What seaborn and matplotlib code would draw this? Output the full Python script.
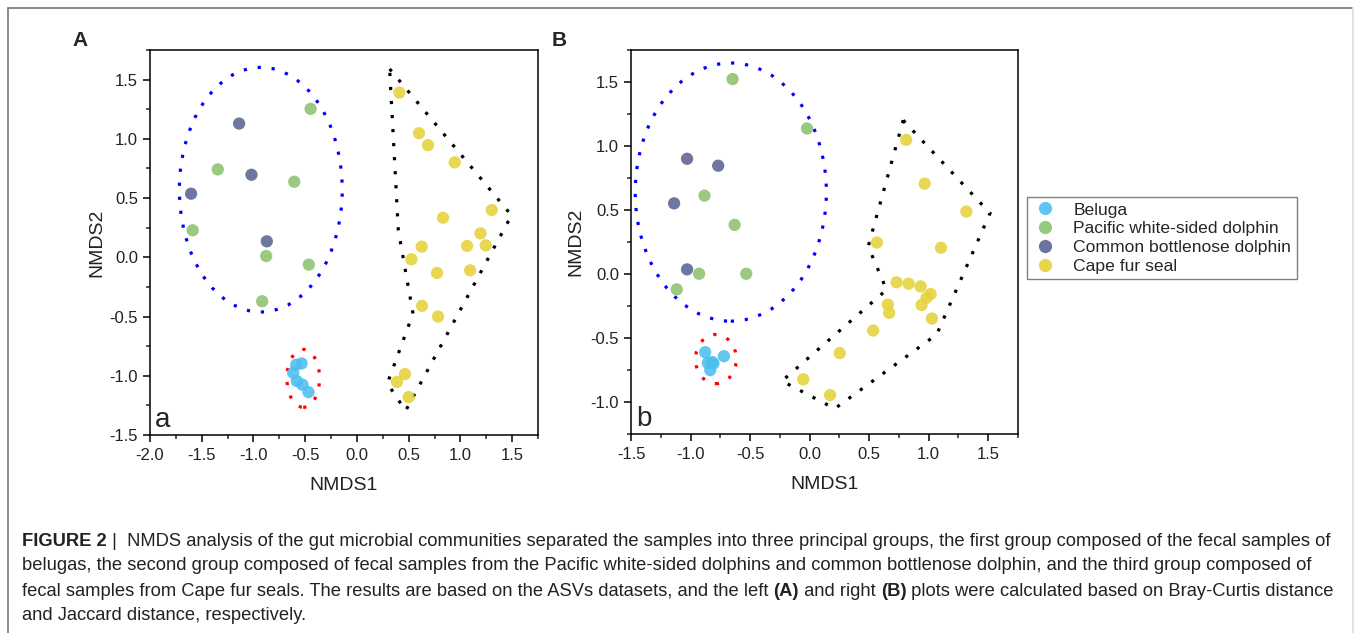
import seaborn as sns
import pandas as pd
import matplotlib.pyplot as plt
from matplotlib.patches import Ellipse, Polygon
from matplotlib.lines import Line2D
from matplotlib.ticker import MultipleLocator

species = ['Beluga', 'Pacific white-sided dolphin', 'Common bottlenose dolphin', 'Cape fur seal']
colors = ['#4DBEEE', '#8DC26F', '#5B6494', '#E5D23A']

# panel A (Bray-Curtis)
a_beluga_x = [-0.535, -0.587, -0.616, -0.581, -0.526, -0.468]
a_beluga_y = [-0.896, -0.907, -0.975, -1.045, -1.076, -1.138]
a_pacific_x = [-0.448, -1.345, -0.606, -1.587, -0.877, -0.465, -0.916]
a_pacific_y = [1.253, 0.742, 0.638, 0.228, 0.011, -0.062, -0.371]
a_bottle_x = [-1.139, -1.019, -1.603, -0.871]
a_bottle_y = [1.129, 0.697, 0.537, 0.135]
a_seal_x = [0.410, 0.600, 0.687, 0.945, 1.303, 0.832, 1.194, 1.065, 1.245,
            0.626, 0.526, 0.774, 1.094, 0.629, 0.784, 0.465, 0.387, 0.500]
a_seal_y = [1.390, 1.048, 0.947, 0.801, 0.399, 0.334, 0.202, 0.096, 0.101,
            0.090, -0.017, -0.132, -0.110, -0.410, -0.500, -0.986, -1.051, -1.180]

# panel B (Jaccard)
b_beluga_x = [-0.877, -0.720, -0.855, -0.818, -0.807, -0.835]
b_beluga_y = [-0.611, -0.642, -0.694, -0.688, -0.699, -0.751]
b_pacific_x = [-0.647, -0.022, -0.883, -0.630, -0.928, -0.532, -1.116]
b_pacific_y = [1.523, 1.137, 0.612, 0.384, 0.002, 0.002, -0.120]
b_bottle_x = [-1.029, -0.768, -1.138, -1.029]
b_bottle_y = [0.900, 0.846, 0.552, 0.036]
b_seal_x = [0.811, 0.966, 1.316, 0.565, 1.103, 0.730, 0.831, 0.932, 1.016,
            0.982, 0.940, 0.657, 0.668, 1.027, 0.534, 0.253, -0.053, 0.172]
b_seal_y = [1.048, 0.706, 0.488, 0.246, 0.205, -0.065, -0.076, -0.097, -0.156,
            -0.187, -0.242, -0.239, -0.304, -0.348, -0.442, -0.618, -0.823, -0.946]

# group outlines: ellipse (center x, center y, width, height), hull vertices
a_blue_ell = (-0.929, 0.571, 1.574, 2.065)
a_red_ell = (-0.519, -1.022, 0.316, 0.489)
a_hull = [(0.316, 1.590), (1.494, 0.354), (0.471, -1.295), (0.294, -1.065), (0.542, -0.475), (0.400, 0.228)]
b_blue_ell = (-0.662, 0.640, 1.605, 2.017)
b_red_ell = (-0.787, -0.665, 0.343, 0.384)
b_hull = [(0.786, 1.201), (1.515, 0.475), (1.067, -0.473), (0.211, -1.052), (-0.232, -0.836), (0.646, -0.123), (0.492, 0.215)]


def make_df(groups):
    rows = []
    for name, xs, ys in groups:
        for x, y in zip(xs, ys):
            rows.append({'NMDS1': x, 'NMDS2': y, 'species': name})
    return pd.DataFrame(rows)


df_a = make_df([(species[0], a_beluga_x, a_beluga_y), (species[1], a_pacific_x, a_pacific_y),
                (species[2], a_bottle_x, a_bottle_y), (species[3], a_seal_x, a_seal_y)])
df_b = make_df([(species[0], b_beluga_x, b_beluga_y), (species[1], b_pacific_x, b_pacific_y),
                (species[2], b_bottle_x, b_bottle_y), (species[3], b_seal_x, b_seal_y)])

sns.set_style('ticks')
plt.rcParams['font.family'] = ['Liberation Sans', 'DejaVu Sans']

W, H = 1354, 633
fig = plt.figure(figsize=(W / 100, H / 100), dpi=100)


def px_axes(l, t, r, b):
    return fig.add_axes([l / W, 1 - b / H, (r - l) / W, (b - t) / H])


dot = (0, (1, 3.4))


def draw_panel(ax, df, xlim, ylim, yticks, blue, red, hull, letter, ylab_x):
    sns.scatterplot(data=df, x='NMDS1', y='NMDS2', hue='species', hue_order=species,
                    palette=colors, s=78, alpha=0.88, linewidth=0, ax=ax, legend=False, zorder=3)
    ax.add_patch(Ellipse(blue[:2], blue[2], blue[3], fill=False, edgecolor='#0000FF',
                         lw=2.3, linestyle=dot, zorder=2))
    ax.add_patch(Ellipse(red[:2], red[2], red[3], fill=False, edgecolor='#FF0000',
                         lw=2.3, linestyle=dot, zorder=2))
    ax.add_patch(Polygon(hull, closed=True, fill=False, edgecolor='black',
                         lw=2.3, linestyle=dot, zorder=2))
    ax.set_xlim(*xlim)
    ax.set_ylim(*ylim)
    ax.set_xticks([v / 2 for v in range(int(xlim[0] * 2), 4)])
    ax.set_yticks(yticks)
    ax.xaxis.set_major_formatter(plt.FuncFormatter(lambda v, p: f'{v:.1f}'))
    ax.yaxis.set_major_formatter(plt.FuncFormatter(lambda v, p: f'{v:.1f}'))
    ax.xaxis.set_minor_locator(MultipleLocator(0.25))
    ax.yaxis.set_minor_locator(MultipleLocator(0.25))
    ax.tick_params(which='major', direction='out', length=5, width=1.1, labelsize=12,
                   pad=3.5, colors='black', labelcolor='#222222')
    ax.tick_params(which='minor', direction='out', length=3, width=1.1)
    ax.tick_params(axis='x', which='major', pad=4.5)
    for sp in ax.spines.values():
        sp.set_visible(True)
        sp.set_linewidth(1.1)
        sp.set_color('black')
    ax.set_xlabel('NMDS1', fontsize=14, color='#222222')
    ax.set_ylabel('NMDS2', fontsize=14, color='#222222')
    ax.xaxis.set_label_coords(0.5, -0.11)
    ax.yaxis.set_label_coords(ylab_x, 0.5)
    ax.text(0.013, 0.021, letter, transform=ax.transAxes, fontsize=20, va='baseline', ha='left')


ax_a = px_axes(150, 50, 538, 435)
draw_panel(ax_a, df_a, (-2.0, 1.75), (-1.5, 1.75), [-1.5, -1.0, -0.5, 0.0, 0.5, 1.0, 1.5],
           a_blue_ell, a_red_ell, a_hull, 'a', -0.115)
ax_b = px_axes(631, 50, 1018, 434)
draw_panel(ax_b, df_b, (-1.5, 1.75), (-1.25, 1.75), [-1.0, -0.5, 0.0, 0.5, 1.0, 1.5],
           b_blue_ell, b_red_ell, b_hull, 'b', -0.12)

fig.text(72 / W, 1 - 41 / H, 'A', fontsize=15, fontweight='bold', va='center', ha='left')
fig.text(552 / W, 1 - 41 / H, 'B', fontsize=15, fontweight='bold', va='center', ha='left')

handles = [Line2D([], [], marker='o', linestyle='none', markersize=9.5, markerfacecolor=c,
                  markeredgewidth=0, alpha=0.9) for c in colors]
fig.legend(handles, species, loc='upper left', bbox_to_anchor=(1027 / W, 1 - 197 / H),
           borderaxespad=0, fontsize=12.6, frameon=True, fancybox=False, edgecolor='#808080',
           framealpha=1, labelspacing=0.2, handletextpad=0.85, borderpad=0.3, handlelength=1.5)

# outer frame of the figure
fig.add_artist(Line2D([8 / W, 1352 / W], [1 - 7.5 / H, 1 - 7.5 / H], color='#777777', lw=1.2))
fig.add_artist(Line2D([8 / W, 8 / W], [0, 1 - 7.5 / H], color='#777777', lw=1.2))
fig.add_artist(Line2D([1352.5 / W, 1352.5 / W], [0, 1 - 7.5 / H], color='#DDDDDD', lw=1.2))

# caption
renderer = fig.canvas.get_renderer()


def caption_line(y, parts, size=13.2):
    x = 22
    for txt, bold in parts:
        t = fig.text(x / W, 1 - y / H, txt, fontsize=size, va='center', ha='left',
                     fontweight='bold' if bold else 'normal', color='#222222')
        x += t.get_window_extent(renderer).width


caption_line(541, [('FIGURE 2', True), (' |  NMDS analysis of the gut microbial communities separated the samples into three principal groups, the first group composed of the fecal samples of', False)])
caption_line(566, [('belugas, the second group composed of fecal samples from the Pacific white-sided dolphins and common bottlenose dolphin, and the third group composed of', False)])
caption_line(591, [('fecal samples from Cape fur seals. The results are based on the ASVs datasets, and the left ', False), ('(A)', True),
                   (' and right ', False), ('(B)', True), (' plots were calculated based on Bray-Curtis distance', False)])
caption_line(616, [('and Jaccard distance, respectively.', False)])

fig.savefig('out.png', dpi=100)
